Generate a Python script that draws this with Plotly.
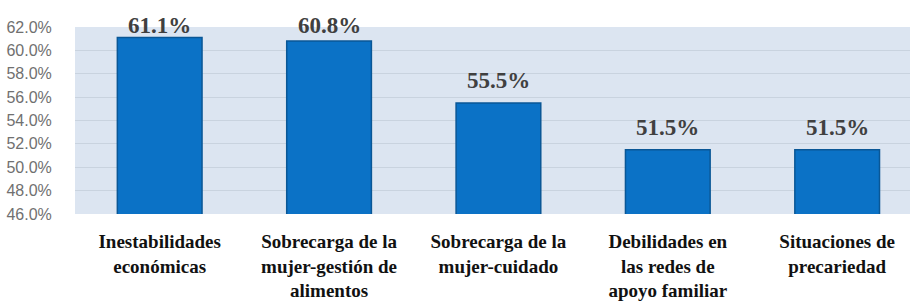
import plotly.graph_objects as go

categories = [
    "Inestabilidades<br>económicas",
    "Sobrecarga de la<br>mujer-gestión de<br>alimentos",
    "Sobrecarga de la<br>mujer-cuidado",
    "Debilidades en<br>las redes de<br>apoyo familiar",
    "Situaciones de<br>precariedad",
]
values = [61.1, 60.8, 55.5, 51.5, 51.5]
tick_vals = [46, 48, 50, 52, 54, 56, 58, 60, 62]
tick_text = ["46.0%", "48.0%", "50.0%", "52.0%", "54.0%", "56.0%", "58.0%", "60.0%", "62.0%"]

fig = go.Figure()
fig.add_trace(go.Bar(
    x=list(range(len(categories))),
    y=values,
    width=0.5,
    marker=dict(color="#0B72C6", line=dict(color="#0A5796", width=1.5)),
    hoverinfo="skip",
))

for i, v in enumerate(values):
    fig.add_annotation(
        x=i, y=min(v, 60.25), yshift=22, yanchor="middle",
        text=f"<b>{v:.1f}%</b>", showarrow=False,
        font=dict(family="Liberation Serif", size=23, color="#404040"),
    )

fig.update_layout(
    width=910, height=305,
    margin=dict(l=75, r=0, t=27, b=91),
    paper_bgcolor="white",
    plot_bgcolor="#DCE5F1",
    showlegend=False,
    bargap=0.5,
)
fig.update_xaxes(
    range=[-0.5, 4.43],
    tickmode="array",
    tickvals=list(range(len(categories))),
    ticktext=[f"<b>{c}</b>" for c in categories],
    tickfont=dict(family="Liberation Serif", size=19, color="#111111"),
    showgrid=False, zeroline=False, showline=False,
    ticks="outside", ticklen=10, tickcolor="rgba(0,0,0,0)",
)
fig.update_yaxes(
    range=[46, 62],
    tickmode="array",
    tickvals=tick_vals,
    ticktext=tick_text,
    tickfont=dict(family="Liberation Sans", size=16, color="#707070"),
    showgrid=True, gridcolor="#C9D3DF", gridwidth=1,
    zeroline=False, showline=False,
    ticks="outside", ticklen=19, tickcolor="rgba(0,0,0,0)",
)

fig.write_html("out.html", config={"displayModeBar": False},
               post_script="document.body.style.margin='0';")
